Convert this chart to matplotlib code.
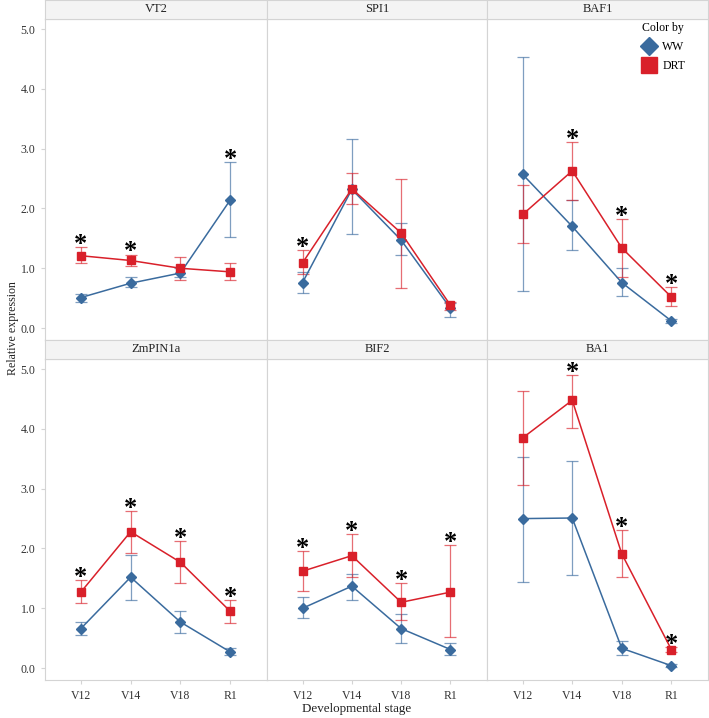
import matplotlib
matplotlib.use("Agg")
import matplotlib.pyplot as plt
from matplotlib.lines import Line2D

plt.rcParams['font.family'] = ['Liberation Serif', 'DejaVu Serif']

stages = ["V12", "V14", "V18", "R1"]
genes = ["VT2", "SPI1", "BAF1", "ZmPIN1a", "BIF2", "BA1"]

# WW (well watered) means and error bar ends
ww_mean = [[0.51, 0.75, 0.92, 2.14],
           [0.76, 2.32, 1.47, 0.33],
           [2.57, 1.70, 0.76, 0.12],
           [0.66, 1.52, 0.77, 0.27],
           [1.00, 1.37, 0.66, 0.31],
           [2.50, 2.51, 0.33, 0.04]]
ww_low = [[0.43, 0.69, 0.85, 1.52],
          [0.58, 1.57, 1.22, 0.18],
          [0.62, 1.30, 0.54, 0.09],
          [0.55, 1.14, 0.58, 0.22],
          [0.83, 1.14, 0.42, 0.21],
          [1.44, 1.55, 0.22, 0.02]]
ww_high = [[0.57, 0.85, 1.00, 2.78],
           [0.94, 3.16, 1.75, 0.42],
           [4.53, 2.14, 1.00, 0.15],
           [0.77, 1.89, 0.96, 0.33],
           [1.19, 1.58, 0.91, 0.42],
           [3.53, 3.47, 0.46, 0.06]]

# DRT (drought) means and error bar ends
drt_mean = [[1.21, 1.13, 1.00, 0.94],
            [1.09, 2.33, 1.59, 0.38],
            [1.90, 2.63, 1.34, 0.52],
            [1.27, 2.28, 1.77, 0.95],
            [1.62, 1.88, 1.10, 1.27],
            [3.85, 4.48, 1.91, 0.31]]
drt_low = [[1.09, 1.03, 0.80, 0.80],
           [0.90, 2.07, 0.67, 0.30],
           [1.43, 2.15, 0.85, 0.37],
           [1.08, 1.93, 1.43, 0.76],
           [1.29, 1.53, 0.80, 0.52],
           [3.07, 4.02, 1.52, 0.27]]
drt_high = [[1.35, 1.23, 1.19, 1.08],
            [1.30, 2.59, 2.50, 0.44],
            [2.39, 3.11, 1.83, 0.68],
            [1.47, 2.63, 2.13, 1.14],
            [1.95, 2.25, 1.42, 2.06],
            [4.63, 4.91, 2.31, 0.35]]

# significant difference marks (*)
signif = [[1, 1, 0, 1],
          [1, 0, 0, 0],
          [0, 1, 1, 1],
          [1, 1, 1, 1],
          [1, 1, 1, 1],
          [0, 1, 1, 1]]

blue = "#3A6B9E"
red = "#D9202A"
grid_col = "#D4D4D4"

W, H = 709, 718
fig = plt.figure(figsize=(W / 100, H / 100), dpi=100)

x_edges = [45, 267, 487, 708]
row_tops = [19, 359]
panel_h = 321
strip_h = 19

x = list(range(len(stages)))

for k, gene in enumerate(genes):
    r, c = divmod(k, 3)
    left = x_edges[c] / W
    width = (x_edges[c + 1] - x_edges[c]) / W
    top = row_tops[r]
    ax = fig.add_axes([left, 1 - (top + panel_h) / H, width, panel_h / H])

    # strip header
    sax = fig.add_axes([left, 1 - top / H, width, strip_h / H])
    sax.set_facecolor("#F4F4F4")
    sax.set_xticks([])
    sax.set_yticks([])
    for s in sax.spines.values():
        s.set_color(grid_col)
        s.set_linewidth(0.8)
    sax.text(0.5, 0.5, gene, ha='center', va='center', fontsize=9, color="#222222",
             transform=sax.transAxes)

    wm, wl, wh = ww_mean[k], ww_low[k], ww_high[k]
    dm, dl, dh = drt_mean[k], drt_low[k], drt_high[k]
    ax.errorbar(x, wm, yerr=[[m - l for m, l in zip(wm, wl)], [h - m for m, h in zip(wm, wh)]],
                fmt='none', ecolor=blue, alpha=0.65, elinewidth=0.9, capsize=4, capthick=0.9)
    ax.errorbar(x, dm, yerr=[[m - l for m, l in zip(dm, dl)], [h - m for m, h in zip(dm, dh)]],
                fmt='none', ecolor=red, alpha=0.65, elinewidth=0.9, capsize=4, capthick=0.9)
    ax.plot(x, wm, color=blue, lw=1.1, marker='D', ms=5, zorder=3)
    ax.plot(x, dm, color=red, lw=1.1, marker='s', ms=6, zorder=4)

    for i in x:
        if signif[k][i]:
            ytop = max(wh[i], dh[i])
            ax.text(i, ytop - 0.15, "*", ha='center', va='bottom', fontsize=19,
                    fontweight='bold', color="black", clip_on=False)

    ax.set_xlim(-0.72, 3.74)
    ax.set_ylim(-0.2, 5.17)
    ax.set_xticks(x)
    ax.set_xticklabels(stages)
    ax.set_yticks([0, 1, 2, 3, 4, 5])
    ax.set_yticklabels(["0.0", "1.0", "2.0", "3.0", "4.0", "5.0"])
    ax.tick_params(axis='both', colors=grid_col, labelcolor="#333333", labelsize=8.5,
                   length=3, width=0.8, pad=4)
    if c != 0:
        ax.tick_params(axis='y', left=False, labelleft=False)
    if r == 0:
        ax.tick_params(axis='x', bottom=False, labelbottom=False)
    for s in ax.spines.values():
        s.set_color(grid_col)
        s.set_linewidth(0.8)

    if k == 2:
        handles = [Line2D([], [], marker='D', color=blue, ls='none', ms=9),
                   Line2D([], [], marker='s', color=red, ls='none', ms=11)]
        leg = ax.legend(handles, ["WW", "DRT"], title="Color by", frameon=False,
                        loc='upper right', bbox_to_anchor=(0.94, 1.02), fontsize=8.5,
                        title_fontsize=8.5, handletextpad=0.5, labelspacing=0.6,
                        handlelength=1.2, borderpad=0.3)
        leg._legend_box.align = "left"

fig.text(13 / W, 1 - 328 / H, "Relative expression", rotation=90, ha='center',
         va='center', fontsize=8.6, color="#222222")
fig.text(357 / W, 1 - 709 / H, "Developmental stage", ha='center', va='center',
         fontsize=9.4, color="#222222")

fig.savefig("out.png", dpi=100)
